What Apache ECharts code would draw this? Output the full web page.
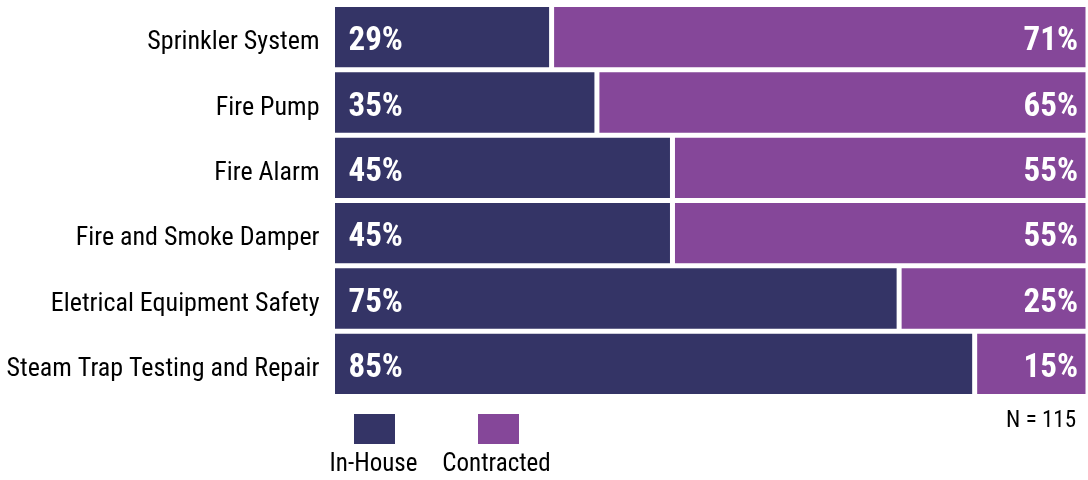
<!DOCTYPE html>
<html>
<head>
<meta charset="utf-8">
<style>
  html, body { margin: 0; padding: 0; background: #fff; }
  #chart { width: 1088px; height: 480px; }
</style>
<script src="https://cdn.jsdelivr.net/npm/echarts@6/dist/echarts.min.js"></script>
</head>
<body>
<div id="chart"></div>
<script>
// Who performs each fire / life-safety task
const categories = [
  'Sprinkler System',
  'Fire Pump',
  'Fire Alarm',
  'Fire and Smoke Damper',
  'Eletrical Equipment Safety',
  'Steam Trap Testing and Repair'
];
const inHouse = [29, 35, 45, 45, 75, 85];
const contracted = [71, 65, 55, 55, 25, 15];
const seriesNames = ['In-House', 'Contracted'];
const sampleNote = 'N = 115';

const FONT = '"Roboto Condensed", "Open Sans", sans-serif';
const COLORS = ['#343466', '#854799'];

const chart = echarts.init(document.getElementById('chart'), null, { renderer: 'canvas' });

// white outline (drawn inside the bar rect) separates rows and segments
const barStyle = (color) => ({
  color: color,
  borderColor: '#ffffff',
  borderWidth: 2.5
});

const valueLabel = (position, distance) => ({
  show: true,
  position: position,
  distance: distance,
  offset: [0, 5],
  formatter: '{c}%',
  color: '#ffffff',
  fontFamily: FONT,
  fontWeight: 'bold',
  fontSize: 33
});

chart.setOption({
  animation: false,
  backgroundColor: '#ffffff',
  grid: { left: 332.5, right: -7.5, top: 4.5, bottom: 83.5, containLabel: false },
  xAxis: {
    type: 'value',
    min: 0,
    max: 100,
    show: false
  },
  yAxis: {
    type: 'category',
    data: categories,
    inverse: true,
    axisLine: { show: false },
    axisTick: { show: false },
    splitLine: { show: false },
    axisLabel: {
      margin: 13,
      color: '#000000',
      fontFamily: FONT,
      fontSize: 26,
      // names sit a little below each row's centre line
      verticalAlign: 'top',
      lineHeight: 11
    }
  },
  legend: [0, 1].map((i) => ({
    data: [seriesNames[i]],
    left: i === 0 ? 352 : 476,
    top: 412,
    icon: 'rect',
    itemWidth: 43,
    itemHeight: 32,
    formatter: () => '',
    selectedMode: false,
    padding: 0
  })),
  graphic: [
    {
      type: 'text', x: 373.5, y: 465,
      style: { text: seriesNames[0], font: '25px ' + FONT, fill: '#000', align: 'center', verticalAlign: 'middle' }
    },
    {
      type: 'text', x: 496.5, y: 465,
      style: { text: seriesNames[1], font: '25px ' + FONT, fill: '#000', align: 'center', verticalAlign: 'middle' }
    },
    {
      type: 'text', x: 1076, y: 421.5,
      style: { text: sampleNote, font: '23px ' + FONT, fill: '#000', align: 'right', verticalAlign: 'middle' }
    }
  ],
  series: [
    {
      name: seriesNames[0],
      type: 'bar',
      stack: 'share',
      barCategoryGap: '0%',
      data: inHouse,
      itemStyle: barStyle(COLORS[0]),
      label: valueLabel('insideLeft', 16)
    },
    {
      name: seriesNames[1],
      type: 'bar',
      stack: 'share',
      barCategoryGap: '0%',
      data: contracted,
      itemStyle: barStyle(COLORS[1]),
      label: valueLabel('insideRight', 10)
    }
  ]
});
</script>
</body>
</html>
